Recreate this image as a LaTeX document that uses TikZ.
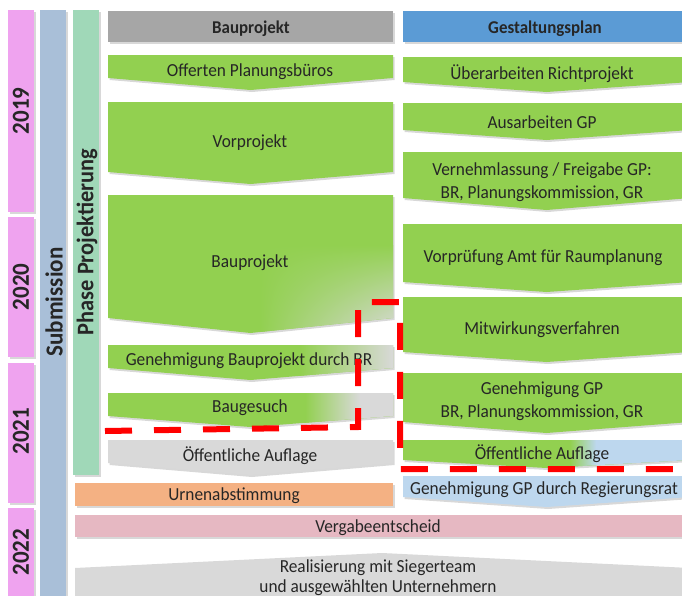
\documentclass[tikz,border=0pt]{standalone}
\usepackage{fontspec}
\setmainfont[FakeStretch=0.94]{Carlito}
\usetikzlibrary{shadows,shadings}
\definecolor{grn}{HTML}{92D050}
\definecolor{gry}{HTML}{D9D9D9}
\definecolor{hdrgray}{HTML}{A6A6A6}
\definecolor{hdrblue}{HTML}{5B9BD5}
\definecolor{ltblue}{HTML}{BDD7EE}
\definecolor{orng}{HTML}{F4B183}
\definecolor{yearpink}{HTML}{EFA3EF}
\definecolor{subblue}{HTML}{A9BFD8}
\definecolor{phasegreen}{HTML}{A0D8B8}
\definecolor{vergabe}{HTML}{E6B8C2}
\definecolor{txt}{HTML}{262626}
\tikzset{
  sh/.style={drop shadow={opacity=0.3, shadow xshift=1.5pt, shadow yshift=-2pt}},
  chevp/.style n args={5}{insert path={(#1,#3) -- (#2,#3) -- (#2,#4) -- ({(#1+#2)/2},#5) -- (#1,#4) -- cycle}},
  lbl/.style={text=txt, font=\fontsize{18.4}{23}\selectfont, align=center, inner sep=0pt, yshift=-1.5pt},
  hdr/.style={text=txt, font=\bfseries\fontsize{18}{22}\selectfont, inner sep=0pt, yshift=-1.5pt},
  vlbl/.style={text=txt, font=\bfseries\fontsize{24.5}{28}\selectfont, rotate=90, inner sep=0pt},
  redline/.style={draw=red, line width=6pt, dash pattern=on 27pt off 22pt},
}
\begin{document}
\begin{tikzpicture}[x=1pt,y=-1pt]
\useasboundingbox (0,0) rectangle (682,595);
\clip (0,0) rectangle (682,595);
\fill[white] (0,0) rectangle (682,595);

% side bars
\fill[yearpink, sh] (8,10) rectangle (34,212);
\fill[yearpink, sh] (8,217) rectangle (34,357);
\fill[yearpink, sh] (8,363) rectangle (34,503);
\fill[yearpink, sh] (8,508) rectangle (34,605);
\node[vlbl] (y2019) at (21,111) {2019};
\node[vlbl] (y2020) at (21,287) {2020};
\node[vlbl] (y2021) at (21,431) {2021};
\node[vlbl] (y2022) at (21,552) {2022};
\fill[subblue, sh] (40,10) rectangle (66,605);
\node[vlbl] (subm) at (54,302) {Submission};
\fill[phasegreen, sh] (73,10) rectangle (99,475);
\node[vlbl, font=\bfseries\fontsize{23.8}{28}\selectfont] (phase) at (87,242) {Phase Projektierung};

% headers
\fill[hdrgray, sh] (108,11) rectangle (393,42);
\node[hdr] (h1) at (251,27) {Bauprojekt};
\fill[hdrblue, sh] (403,11) rectangle (690,42);
\node[hdr] (h2) at (545,27) {Gestaltungsplan};

% left column
\fill[grn, sh, chevp={108}{393}{55}{78}{90}];
\node[lbl] (l1) at (250,70) {Offerten Planungsbüros};
\fill[grn, sh, chevp={108}{393}{102}{172}{184}];
\node[lbl] (l2) at (250,141) {Vorprojekt};
\fill[grn, sh, chevp={108}{393}{195}{318}{333}];
\begin{scope}
  \clip[chevp={108}{393}{195}{318}{333}];
  \shade[upper left=grn, upper right=grn, lower left=grn, lower right=gry] (260,245) rectangle (393,333);
\end{scope}
\node[lbl] (l3) at (250,261) {Bauprojekt};
\fill[grn, sh, chevp={108}{393}{345}{368}{380}];
\begin{scope}
  \clip[chevp={108}{393}{345}{368}{380}];
  \shade[left color=grn, right color=gry] (300,345) rectangle (394,381);
\end{scope}
\node[lbl] (l4) at (249,359) {Genehmigung Bauprojekt durch BR};
\fill[grn, sh, chevp={108}{393}{393}{416}{427}];
\begin{scope}
  \clip[chevp={108}{393}{393}{416}{427}];
  \shade[left color=grn, right color=gry] (305,393) rectangle (360,428);
  \fill[gry] (359.5,393) rectangle (394,428);
\end{scope}
\node[lbl] (l5) at (250,406) {Baugesuch};
\fill[gry, sh, chevp={108}{393}{440}{463}{475}];
\node[lbl] (l6) at (250,454) {Öffentliche Auflage};
\fill[orng, sh] (75,483) rectangle (393,506);
\node[lbl] (l7) at (234,494) {Urnenabstimmung};

% right column
\fill[grn, sh, chevp={403}{690}{57}{82}{92}];
\node[lbl] (r1) at (542,72) {Überarbeiten Richtprojekt};
\fill[grn, sh, chevp={403}{690}{103}{130}{140}];
\node[lbl] (r2) at (542,121) {Ausarbeiten GP};
\fill[grn, sh, chevp={403}{690}{152}{198}{210}];
\node[lbl] (r3) at (542,181) {Vernehmlassung / Freigabe GP:\\BR, Planungskommission, GR};
\fill[grn, sh, chevp={403}{690}{224}{282}{292}];
\node[lbl] (r4) at (543,256) {Vorprüfung Amt für Raumplanung};
\fill[grn, sh, chevp={403}{690}{297}{352}{362}];
\node[lbl] (r5) at (542,328) {Mitwirkungsverfahren};
\fill[grn, sh, chevp={403}{690}{373}{422}{433}];
\node[lbl] (r6) at (542,400) {Genehmigung GP\\BR, Planungskommission, GR};
\fill[grn, sh, chevp={403}{690}{440}{460}{468}];
\begin{scope}
  \clip[chevp={403}{690}{440}{460}{468}];
  \shade[left color=grn, right color=ltblue] (570,440) rectangle (596,469);
  \fill[ltblue] (595.5,440) rectangle (691,469);
\end{scope}
\node[lbl] (r7) at (542,452) {Öffentliche Auflage};
\fill[ltblue, sh, chevp={403}{690}{476}{497}{507}];
\node[lbl] (r8) at (544,488) {Genehmigung GP durch Regierungsrat};

% bottom rows
\fill[vergabe, sh] (75,515) rectangle (690,537);
\node[lbl] (b1) at (378,526) {Vergabeentscheid};
\fill[gry, sh] (75,568) -- (382,553) -- (690,568) -- (690,605) -- (75,605) -- cycle;
\node[lbl, font=\fontsize{18.4}{20}\selectfont] (b2) at (378,576.5) {Realisierung mit Siegerteam\\und ausgewählten Unternehmern};

% red dashed boundary
\coordinate (d1) at (105,431);
\coordinate (d2) at (358,427);
\coordinate (d3) at (358,302);
\coordinate (d4) at (400,302);
\coordinate (d5) at (400,469);
\coordinate (d6) at (690,469);
\draw[redline] (d1) -- (d2) -- (d3) -- (d4) -- (d5) -- (d6);
\end{tikzpicture}
\end{document}
